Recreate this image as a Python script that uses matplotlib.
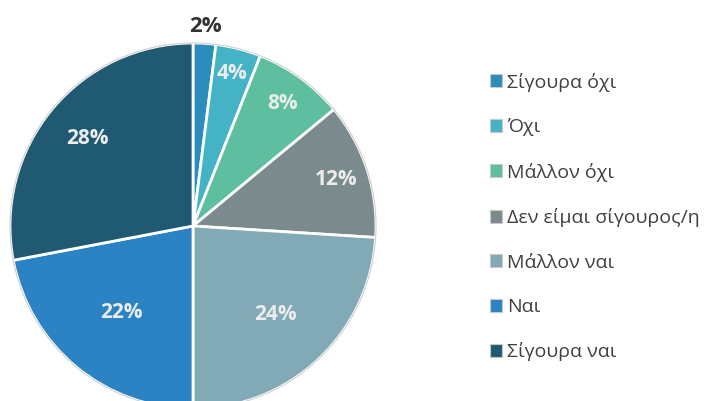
import numpy as np
import matplotlib
matplotlib.use("Agg")
from matplotlib import pyplot as plt
from matplotlib.patches import Patch, Circle

plt.rcParams['font.family'] = ['Open Sans', 'Noto Sans', 'DejaVu Sans']

# data
labels = ['Σίγουρα όχι', 'Όχι', 'Μάλλον όχι', 'Δεν είμαι σίγουρος/η',
          'Μάλλον ναι', 'Ναι', 'Σίγουρα ναι']
values = [2, 4, 8, 12, 24, 22, 28]
colors = ['#2a8dbb', '#45b3c6', '#5dbf9f', '#7b8b8d', '#82a9b6', '#2c83c4', '#1f5a72']
# how far from centre each % label sits (fraction of radius)
label_dist = [1.09, 0.86, 0.83, 0.82, 0.66, 0.61, 0.75]

W, H = 713, 401
fig = plt.figure(figsize=(W / 100, H / 100), dpi=100)
ax = fig.add_axes([0, 0, 1, 1])

wedges, _ = ax.pie(values, colors=colors, startangle=90, counterclock=False,
                   radius=1, wedgeprops=dict(edgecolor='white', linewidth=2))
ax.add_patch(Circle((0, 0), 1.0, fill=False, edgecolor='#cfcfcf', lw=0.8))

# pie centre / radius in pixels
cx, cy, R = 193, 226, 183
ax.set_xlim(-cx / R, (W - cx) / R)
ax.set_ylim(-(H - cy) / R, cy / R)
ax.set_aspect('equal')
ax.axis('off')

# percentage labels
for w, v, d in zip(wedges, values, label_dist):
    ang = np.deg2rad((w.theta1 + w.theta2) / 2)
    x, y = d * np.cos(ang), d * np.sin(ang)
    col = '#333333' if d > 1 else '#ececec'
    fs = 16 if d > 1 else 15
    ax.text(x, y, f'{v}%', ha='center', va='center', fontsize=fs,
            fontweight='bold', color=col)

handles = [Patch(facecolor=c, edgecolor='#c8c8c8', linewidth=0.8) for c in colors]
fig.legend(handles, labels, loc='upper left', bbox_to_anchor=(482 / W, 1 - 65 / H),
           frameon=False, fontsize=14, labelcolor='#404040',
           handlelength=0.65, handleheight=0.65, handletextpad=0.25,
           labelspacing=1.36, borderaxespad=0)

fig.savefig('out.png', dpi=100)
